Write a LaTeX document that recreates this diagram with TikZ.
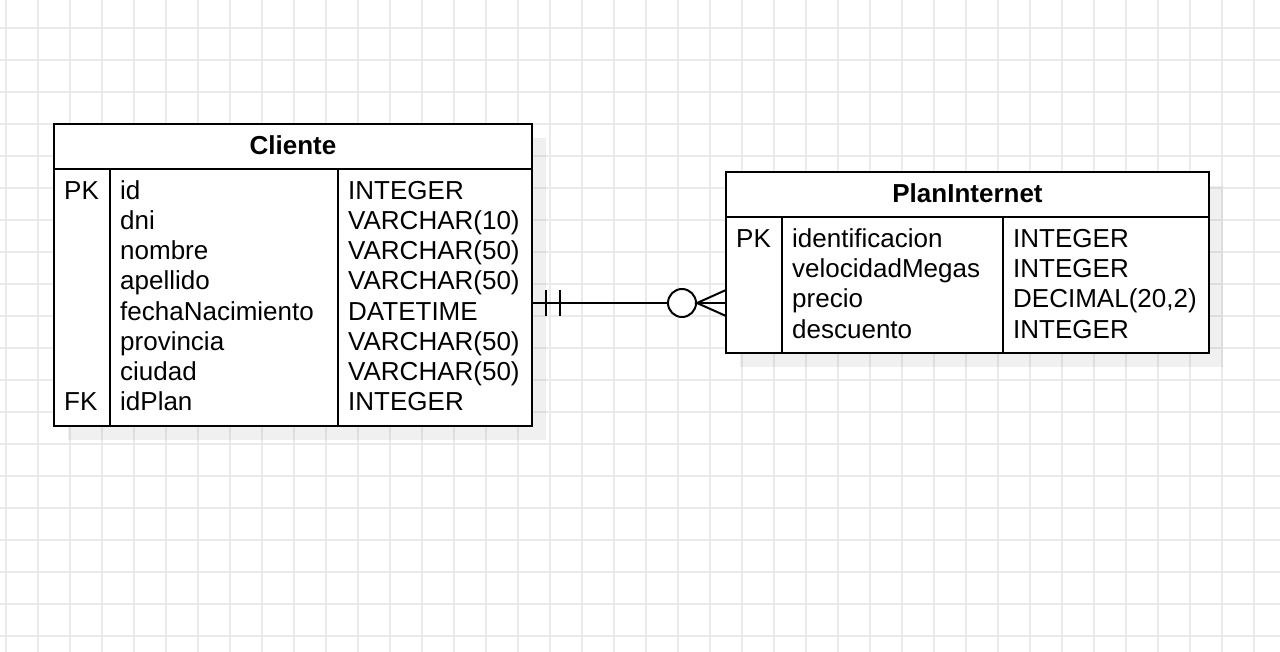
\documentclass[tikz,border=0pt]{standalone}
\usepackage{fontspec}
\setmainfont{Liberation Sans}
\usetikzlibrary{calc}

\begin{document}
\begin{tikzpicture}[x=1pt,y=-1pt,
    rejilla/.style={black!8,line width=1.5pt},
    sombra/.style={fill=black,fill opacity=0.06},
    tabla/.style={draw=black,line width=2pt,fill=white,inner sep=0pt,outer sep=0pt,anchor=north west},
    linea/.style={black,line width=2pt},
    txt/.style={anchor=base west,inner sep=0pt,font=\fontsize{26}{30}\selectfont},
    titulo/.style={anchor=base,inner sep=0pt,font=\fontsize{26}{30}\selectfont\bfseries}]
  \useasboundingbox (0,0) rectangle (1280,652);
  % fondo cuadriculado
  \foreach \x in {6,38,...,1280} \draw[rejilla] (\x,0) -- (\x,652);
  \foreach \y in {28,60,...,652} \draw[rejilla] (0,\y) -- (1280,\y);
  % sombras
  \fill[sombra] (68,138) rectangle (546,440);
  \fill[sombra] (740,186) rectangle (1223,367);
  % tabla Cliente
  \node[tabla,minimum width=478pt,minimum height=302pt] (cliente) at (54,124) {};
  \draw[linea] (54,169) -- (532,169);
  \draw[linea] (110,169) -- (110,426);
  \draw[linea] (338,169) -- (338,426);
  \node[titulo] (cliente-tit) at (293,155) {Cliente};
  \node[txt] (cliente-pk) at (64,200) {PK};
  \node[txt] (cliente-fk) at (64,410) {FK};
  \foreach \n/\t [count=\i from 0] in {id/INTEGER, dni/VARCHAR(10), nombre/VARCHAR(50),
      apellido/VARCHAR(50), fechaNacimiento/DATETIME, provincia/VARCHAR(50),
      ciudad/VARCHAR(50), idPlan/INTEGER}{
    \node[txt] (cliente-n\i) at (120,200+30*\i) {\n};
    \node[txt] (cliente-t\i) at (348,200+30*\i) {\t};
  }
  % tabla PlanInternet
  \node[tabla,minimum width=483pt,minimum height=181pt] (plan) at (726,172) {};
  \draw[linea] (726,217) -- (1209,217);
  \draw[linea] (782,217) -- (782,353);
  \draw[linea] (1003,217) -- (1003,353);
  \node[titulo] (plan-tit) at (967.5,203) {PlanInternet};
  \node[txt] (plan-pk) at (736,248) {PK};
  \foreach \n/\t [count=\i from 0] in {identificacion/INTEGER, velocidadMegas/INTEGER,
      precio/{DECIMAL(20,2)}, descuento/INTEGER}{
    \node[txt] (plan-n\i) at (792,248+30*\i) {\n};
    \node[txt] (plan-t\i) at (1013,248+30*\i) {\t};
  }
  % relacion
  \coordinate (izq) at (532,303);
  \coordinate (der) at (726,303);
  \draw[linea] (izq) -- (der);
  \draw[linea] (546,290) -- (546,316);
  \draw[linea] (560,290) -- (560,316);
  \node[circle,draw,linea,fill=white,minimum size=28pt,inner sep=0pt] (cero) at (682,303) {};
  \draw[linea] (cero.east) -- (726,290);
  \draw[linea] (cero.east) -- (726,316);
\end{tikzpicture}
\end{document}
